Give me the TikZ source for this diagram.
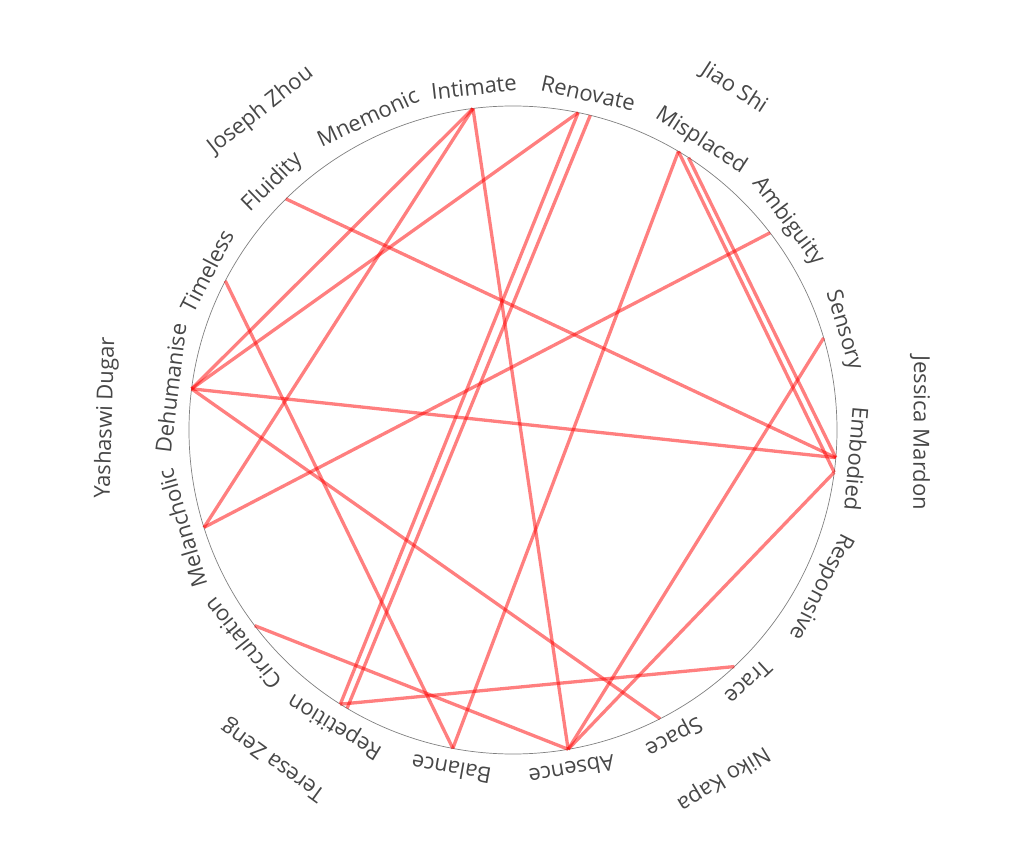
\documentclass[tikz,border=0pt]{standalone}
\usepackage{fontspec}
\setmainfont{Open Sans}
\begin{document}
\begin{tikzpicture}[x=1pt,y=1pt,
  lbl/.style={font=\fontsize{22}{26}\selectfont, text=black!72, inner sep=0pt, anchor=center},
  edge/.style={draw=red, line width=3.3pt, opacity=0.5},
  rim/.style={draw=black!50, line width=0.7pt}]
\useasboundingbox (-513,-434) rectangle (511,430);
\draw[rim] (0,0) circle (324);
% concept labels
\foreach \a/\t in {96.5/Intimate, 114.9/Mnemonic, 134.2/Fluidity, 152.6/Timeless,
  173/Dehumanise, -163.5/Melancholic, -141.7/Circulation, -121/Repetition,
  -100.3/Balance, -80.2/Absence, -62.3/Space, -47/Trace, -27/Responsive,
  -4.8/Embodied, 16.8/Sensory, 37.2/Ambiguity, 57/Misplaced, 77.4/Renovate}
  \node[lbl, rotate=\a-90] (l-\t) at (\a:345) {\t};
% person labels
\foreach \a/\n/\t in {128.3/jz/Joseph Zhou, 57.1/js/Jiao Shi, -0.4/jm/Jessica Mardon,
  -58.9/nk/Niko Kapa, -126/tz/Teresa Zeng, 178.3/yd/Yashaswi Dugar}
  \node[lbl, rotate=\a-90] (p-\n) at (\a:407) {\t};
% endpoints on the rim
\foreach \a/\n in {97.1/Intimate, 78.4/RenovateA, 76.2/RenovateB, 59.3/MisplacedA,
  57.2/MisplacedB, 37.5/Ambiguity, 16.5/Sensory, -4.9/EmbodiedA, -7.5/EmbodiedB,
  -46.9/Trace, -63/Space, -80.2/Absence, -100.7/Balance, -122.2/RepetitionA,
  -120.8/RepetitionB, -142.85/Circulation, -162.5/Melancholic, 172.7/Dehumanise,
  152.6/Timeless, 134.5/Fluidity}
  \coordinate (e-\n) at (\a:324);
% connectors
\draw[edge] (e-Intimate) -- (e-Dehumanise);
\draw[edge] (e-Intimate) -- (e-Melancholic);
\draw[edge] (e-Intimate) -- (e-Absence);
\draw[edge] (e-RenovateA) -- (e-Dehumanise);
\draw[edge] (e-RenovateA) -- (e-RepetitionA);
\draw[edge] (e-RenovateB) -- (e-RepetitionB);
\draw[edge] (e-MisplacedA) -- (e-Balance);
\draw[edge] (e-MisplacedA) -- (e-EmbodiedB);
\draw[edge] (e-MisplacedB) -- (e-EmbodiedA);
\draw[edge] (e-Ambiguity) -- (e-Melancholic);
\draw[edge] (e-Sensory) -- (e-Absence);
\draw[edge] (e-Fluidity) -- (e-EmbodiedA);
\draw[edge] (e-Dehumanise) -- (e-EmbodiedA);
\draw[edge] (e-EmbodiedB) -- (e-Absence);
\draw[edge] (e-Trace) -- (e-RepetitionA);
\draw[edge] (e-Space) -- (e-Dehumanise);
\draw[edge] (e-Timeless) -- (e-Balance);
\draw[edge] (e-Circulation) -- (e-Absence);
\end{tikzpicture}
\end{document}
